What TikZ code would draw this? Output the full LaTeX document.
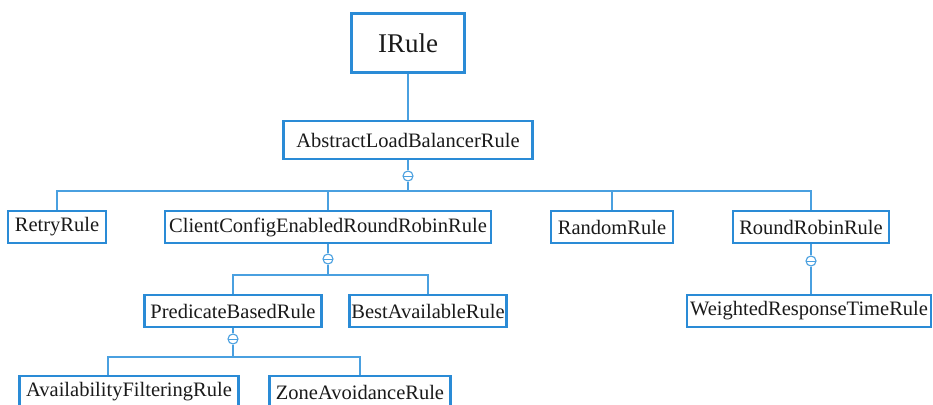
\documentclass[tikz,border=0pt]{standalone}
\usepackage{fontspec}
\setmainfont{Liberation Serif}
\definecolor{rulebox}{HTML}{2A8BD6}
\definecolor{ruleline}{HTML}{4AA0E0}
\definecolor{ruletext}{HTML}{1A1A1A}
\tikzset{
  classbox/.style={draw=rulebox,fill=white,line width=2.6pt,
                   minimum height=32pt,inner sep=0pt,
                   font=\fontsize{20.5}{24}\selectfont,text=ruletext},
  rootbox/.style={classbox,line width=3.8pt,minimum height=59pt,
                  font=\fontsize{27}{31}\selectfont},
  gendot/.style={circle,draw=ruleline,fill=white,line width=1.1pt,
                 minimum size=10pt,inner sep=0pt,
                 path picture={\draw[ruleline,line width=0.9pt]
                   (path picture bounding box.west) -- (path picture bounding box.east);}},
  link/.style={draw=ruleline,line width=1.4pt}
}
\begin{document}
\begin{tikzpicture}[x=1pt,y=-1pt]
  \path[use as bounding box,clip] (0,0) rectangle (933,404);
  % class hierarchy
  \node[rootbox,minimum width=113pt] (irule) at (408,43) {IRule};
  \node[classbox,minimum width=249pt,minimum height=38pt] (albr) at (408,140) {AbstractLoadBalancerRule};
  \node[classbox,minimum width=98pt] (retry) at (57,227) {RetryRule};
  \node[classbox,minimum width=326pt] (ccerr) at (328,227) {ClientConfigEnabledRoundRobinRule};
  \node[classbox,minimum width=122pt] (random) at (612,227) {RandomRule};
  \node[classbox,minimum width=156pt] (rrr) at (811,227) {RoundRobinRule};
  \node[classbox,minimum width=177pt] (pbr) at (233,311) {PredicateBasedRule};
  \node[classbox,minimum width=157pt] (bar) at (428,311) {BestAvailableRule};
  \node[classbox,minimum width=244pt] (wrtr) at (809,311) {WeightedResponseTimeRule};
  \node[classbox,minimum width=219pt] (afr) at (129,392) {AvailabilityFilteringRule};
  \node[classbox,minimum width=181pt] (zar) at (360,392) {ZoneAvoidanceRule};
  % inheritance markers and buses
  \node[gendot] (albrdot) at (408,176) {};
  \node[gendot] (ccerrdot) at (328,259) {};
  \node[gendot] (rrrdot) at (811,261) {};
  \node[gendot] (pbrdot) at (233,339) {};
  \coordinate (albrbus) at (408,191);
  \coordinate (ccerrbus) at (328,275);
  \coordinate (pbrbus) at (233,357);
  % connectors
  \draw[link] (irule) -- (albr);
  \draw[link] (albr) -- (albrdot);
  \draw[link] (albrdot) -- (albrbus);
  \foreach \sub in {retry,ccerr,random,rrr}
    \draw[link] (albrbus) -| (\sub.north);
  \draw[link] (ccerr) -- (ccerrdot);
  \draw[link] (ccerrdot) -- (ccerrbus);
  \foreach \sub in {pbr,bar}
    \draw[link] (ccerrbus) -| (\sub.north);
  \draw[link] (rrr) -- (rrrdot);
  \draw[link] (rrrdot) -- (rrrdot |- wrtr.north);
  \draw[link] (pbr) -- (pbrdot);
  \draw[link] (pbrdot) -- (pbrbus);
  \draw[link] (pbrbus) -| ([xshift=-21pt]afr.north);
  \draw[link] (pbrbus) -| (zar.north);
\end{tikzpicture}
\end{document}
